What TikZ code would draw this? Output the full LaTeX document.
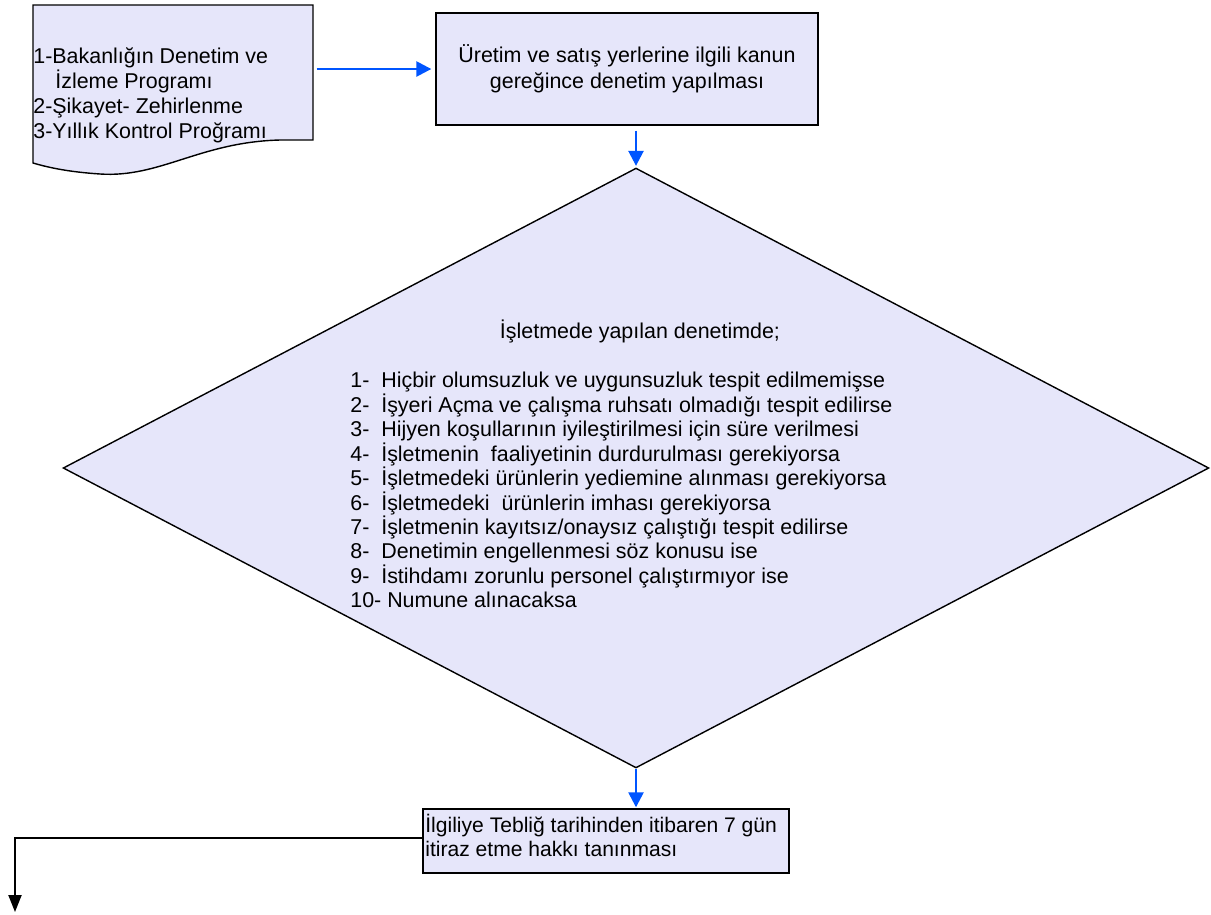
\documentclass[tikz,border=0pt]{standalone}
\usepackage{fontspec}
\setmainfont{Liberation Sans}
\usetikzlibrary{shapes.geometric,arrows.meta}
\definecolor{boxfill}{RGB}{230,230,250}
\definecolor{flowblue}{RGB}{0,85,255}
\begin{document}
\begin{tikzpicture}[x=0.02cm,y=-0.02cm,
flowbox/.style={draw,line width=0.8pt,fill=boxfill},
txt/.style={font=\fontsize{12.2}{14}\selectfont,inner sep=0pt},
bluearrow/.style={draw=flowblue,line width=1.4pt,-{Triangle[length=0.3cm,width=0.3cm]}},
blackarrow/.style={line width=1.2pt,-{Triangle[length=0.34cm,width=0.26cm]}}]
\useasboundingbox (0,0) rectangle (1211,914);
% source document
\path[flowbox] (33,5) -- (313,5) -- (313,140) -- (280,140) .. controls (200,142) and (160,178) .. (100,174) .. controls (70,172) and (50,168) .. (33,163) -- cycle;
\node[inner sep=0pt,minimum width=5.6cm,minimum height=2.7cm,anchor=north west] (src) at (33,5) {};
\node[txt,align=left,anchor=north west,font=\fontsize{12.2}{14.2}\selectfont] (srctext) at (33,47) {1-Bakanlığın Denetim ve\\\hspace*{0.44cm}İzleme Programı\\2-Şikayet- Zehirlenme\\3-Yıllık Kontrol Proğramı};
% audit
\node[flowbox,txt,minimum width=7.64cm,minimum height=2.24cm,align=center,font=\fontsize{12.2}{14.8}\selectfont] (audit) at (627,69) {Üretim ve satış yerlerine ilgili kanun\\gereğince denetim yapılması};
% decision
\node[flowbox,diamond,minimum width=22.92cm,minimum height=12cm,inner sep=0pt] (check) at (636,468) {};
\node[txt] (checktitle) at (640,331) {İşletmede yapılan denetimde;};
\node[txt,align=left,anchor=north west,font=\fontsize{12.2}{13.9}\selectfont] (checklist) at (350,372) {1-\ \ Hiçbir olumsuzluk ve uygunsuzluk tespit edilmemişse\\
2-\ \ İşyeri Açma ve çalışma ruhsatı olmadığı tespit edilirse\\
3-\ \ Hijyen koşullarının iyileştirilmesi için süre verilmesi\\
4-\ \ İşletmenin\ \ faaliyetinin durdurulması gerekiyorsa\\
5-\ \ İşletmedeki ürünlerin yediemine alınması gerekiyorsa\\
6-\ \ İşletmedeki\ \ ürünlerin imhası gerekiyorsa\\
7-\ \ İşletmenin kayıtsız/onaysız çalıştığı tespit edilirse\\
8-\ \ Denetimin engellenmesi söz konusu ise\\
9-\ \ İstihdamı zorunlu personel çalıştırmıyor ise\\
10- Numune alınacaksa};
% notice
\node[flowbox,minimum width=7.32cm,minimum height=1.28cm,inner sep=0pt] (notice) at (606,841) {};
\node[txt,align=left,anchor=north west,font=\fontsize{12}{13.7}\selectfont] (noticetext) at (425,814) {İlgiliye Tebliğ tarihinden itibaren 7 gün\\itiraz etme hakkı tanınması};
\coordinate (exit) at (15,912);
% connectors
\draw[bluearrow,shorten <=0.06cm,shorten >=0.08cm] (src.east |- audit.west) -- (audit.west);
\draw[bluearrow,shorten <=0.1cm,shorten >=0.03cm] (check.north |- audit.south) -- (check.north);
\draw[bluearrow,shorten >=0.02cm] (check.south) -- (check.south |- notice.north);
\draw[blackarrow] ([yshift=0.06cm]notice.west) -| (exit);
\end{tikzpicture}
\end{document}
